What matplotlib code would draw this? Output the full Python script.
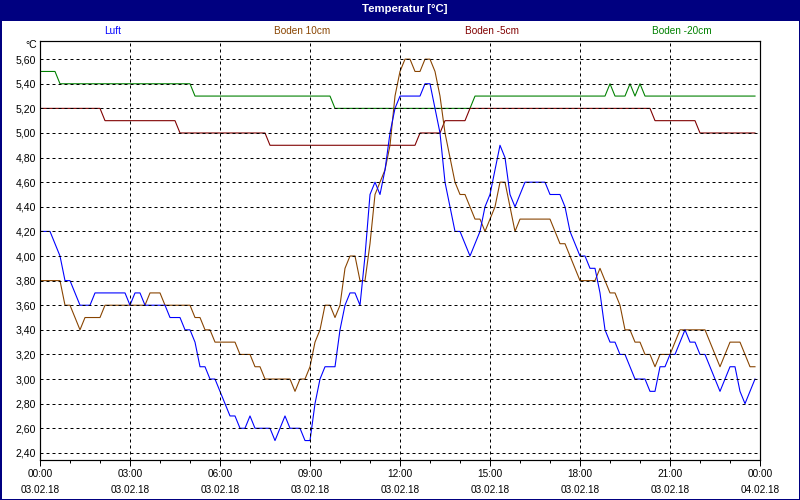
import numpy as np
import matplotlib
matplotlib.use("Agg")
import matplotlib.pyplot as plt
from matplotlib.patches import Rectangle

plt.rcParams['font.family'] = ['Liberation Sans Narrow', 'Liberation Sans', 'DejaVu Sans']

# 10-Minuten-Werte 03.02.18 00:00 .. 23:50
luft = [
    4.2, 4.2, 4.2, 4.1, 4.0, 3.8, 3.8, 3.7, 3.6, 3.6, 3.6, 3.7,
    3.7, 3.7, 3.7, 3.7, 3.7, 3.7, 3.6, 3.7, 3.7, 3.6, 3.6, 3.6,
    3.6, 3.6, 3.5, 3.5, 3.5, 3.4, 3.4, 3.3, 3.1, 3.1, 3.0, 3.0,
    2.9, 2.8, 2.7, 2.7, 2.6, 2.6, 2.7, 2.6, 2.6, 2.6, 2.6, 2.5,
    2.6, 2.7, 2.6, 2.6, 2.6, 2.5, 2.5, 2.8, 3.0, 3.1, 3.1, 3.1,
    3.4, 3.6, 3.7, 3.7, 3.6, 4.0, 4.5, 4.6, 4.5, 4.7, 5.0, 5.2,
    5.3, 5.3, 5.3, 5.3, 5.3, 5.4, 5.4, 5.2, 5.0, 4.6, 4.4, 4.2,
    4.2, 4.1, 4.0, 4.1, 4.2, 4.4, 4.5, 4.7, 4.9, 4.8, 4.5, 4.4,
    4.5, 4.6, 4.6, 4.6, 4.6, 4.6, 4.5, 4.5, 4.5, 4.4, 4.2, 4.1,
    4.0, 4.0, 3.9, 3.9, 3.7, 3.4, 3.3, 3.3, 3.2, 3.2, 3.1, 3.0,
    3.0, 3.0, 2.9, 2.9, 3.1, 3.1, 3.2, 3.2, 3.3, 3.4, 3.3, 3.3,
    3.2, 3.2, 3.1, 3.0, 2.9, 3.0, 3.1, 3.1, 2.9, 2.8, 2.9, 3.0,
]
boden_10 = [
    3.8, 3.8, 3.8, 3.8, 3.8, 3.6, 3.6, 3.5, 3.4, 3.5, 3.5, 3.5,
    3.5, 3.6, 3.6, 3.6, 3.6, 3.6, 3.6, 3.6, 3.6, 3.6, 3.7, 3.7,
    3.7, 3.6, 3.6, 3.6, 3.6, 3.6, 3.6, 3.5, 3.5, 3.4, 3.4, 3.3,
    3.3, 3.3, 3.3, 3.3, 3.2, 3.2, 3.2, 3.1, 3.1, 3.0, 3.0, 3.0,
    3.0, 3.0, 3.0, 2.9, 3.0, 3.0, 3.1, 3.3, 3.4, 3.6, 3.6, 3.5,
    3.6, 3.9, 4.0, 4.0, 3.8, 3.8, 4.1, 4.5, 4.6, 4.7, 4.9, 5.3,
    5.5, 5.6, 5.6, 5.5, 5.5, 5.6, 5.6, 5.5, 5.3, 5.0, 4.8, 4.6,
    4.5, 4.5, 4.4, 4.3, 4.3, 4.2, 4.3, 4.4, 4.6, 4.6, 4.4, 4.2,
    4.3, 4.3, 4.3, 4.3, 4.3, 4.3, 4.3, 4.2, 4.1, 4.1, 4.0, 3.9,
    3.8, 3.8, 3.8, 3.8, 3.9, 3.8, 3.7, 3.7, 3.6, 3.4, 3.4, 3.3,
    3.3, 3.2, 3.2, 3.1, 3.2, 3.2, 3.2, 3.3, 3.4, 3.4, 3.4, 3.4,
    3.4, 3.4, 3.3, 3.2, 3.1, 3.2, 3.3, 3.3, 3.3, 3.2, 3.1, 3.1,
]
boden_5 = [5.2] * 13 + [5.1] * 15 + [5.0] * 18 + [4.9] * 30 + [5.0] * 5 \
    + [5.1] * 5 + [5.2] * 37 + [5.1] * 9 + [5.0] * 12
boden_20 = [5.5] * 4 + [5.4] * 27 + [5.3] * 28 + [5.2] * 28 + [5.3] * 27 \
    + [5.4, 5.3, 5.3, 5.3, 5.4, 5.3, 5.4] + [5.3] * 23

namen = ["Luft", "Boden 10cm", "Boden -5cm", "Boden -20cm"]
farben = ["#0000ff", "#884400", "#800000", "#008000"]

x_ticks = [0, 3, 6, 9, 12, 15, 18, 21, 24]
x_zeit = ["00:00", "03:00", "06:00", "09:00", "12:00", "15:00", "18:00", "21:00", "00:00"]
x_datum = ["03.02.18"] * 8 + ["04.02.18"]
y_ticks = [2.4, 2.6, 2.8, 3.0, 3.2, 3.4, 3.6, 3.8, 4.0, 4.2, 4.4, 4.6, 4.8, 5.0, 5.2, 5.4, 5.6]

t = np.arange(len(luft)) / 6.0

fig = plt.figure(figsize=(8, 5), dpi=100)
fig.patch.set_facecolor("white")
ax = fig.add_axes([40 / 800, 40 / 500, 720 / 800, 419.3 / 500])

px = 72.0 / 100
for werte, farbe in zip([boden_20, boden_5, boden_10, luft], [farben[3], farben[2], farben[1], farben[0]]):
    ax.plot(t, werte, color=farbe, lw=1.1 * px)

ax.set_xlim(0, 24)
ax.set_ylim(2.342, 5.75)
ax.set_xticks(x_ticks)
ax.set_xticklabels([a + "\n" + b for a, b in zip(x_zeit, x_datum)], fontsize=7.2, linespacing=1.75)
ax.set_xticks(np.arange(0, 25, 1), minor=True)
ax.set_yticks(y_ticks)
ax.yaxis.set_major_formatter(matplotlib.ticker.FuncFormatter(lambda v, p: ("%.2f" % v).replace(".", ",")))
for lab in ax.get_yticklabels():
    lab.set_fontsize(7.6)
ax.tick_params(axis="y", labelsize=7.6)
ax.tick_params(axis="x", which="major", length=4, width=px, direction="out", pad=2.5)
ax.tick_params(axis="x", which="minor", length=2.5, width=px, direction="out")
ax.tick_params(axis="y", length=0, pad=3)
ax.set_axisbelow(False)
ax.grid(True, axis="both", which="major", color="black", lw=px, linestyle=(0, (3, 3)))
for s in ax.spines.values():
    s.set_linewidth(1.2 * px)
    s.set_color("black")

fig.text(37 / 800, 1 - 45 / 500, "°C", ha="right", va="center", fontsize=7.6)

# Titelleiste und Rahmen
fig.patches.append(Rectangle((0, 1 - 21 / 500), 1, 21 / 500, transform=fig.transFigure,
                             facecolor="#000080", edgecolor="none", zorder=0))
fig.patches.append(Rectangle((0, 0), 1, 1, transform=fig.transFigure, fill=False,
                             edgecolor="#000080", lw=3 * px, zorder=5))
fig.text(0.506, 1 - 9.5 / 500, "Temperatur [°C]", color="white", fontsize=8.2,
         fontweight="bold", ha="center", va="center")

for i, (name, farbe) in enumerate(zip(namen, farben)):
    fig.text((113 + 189.5 * i) / 800, 1 - 31 / 500, name, color=farbe, fontsize=7.2,
             ha="center", va="center")

fig.savefig("out.png", dpi=100)
